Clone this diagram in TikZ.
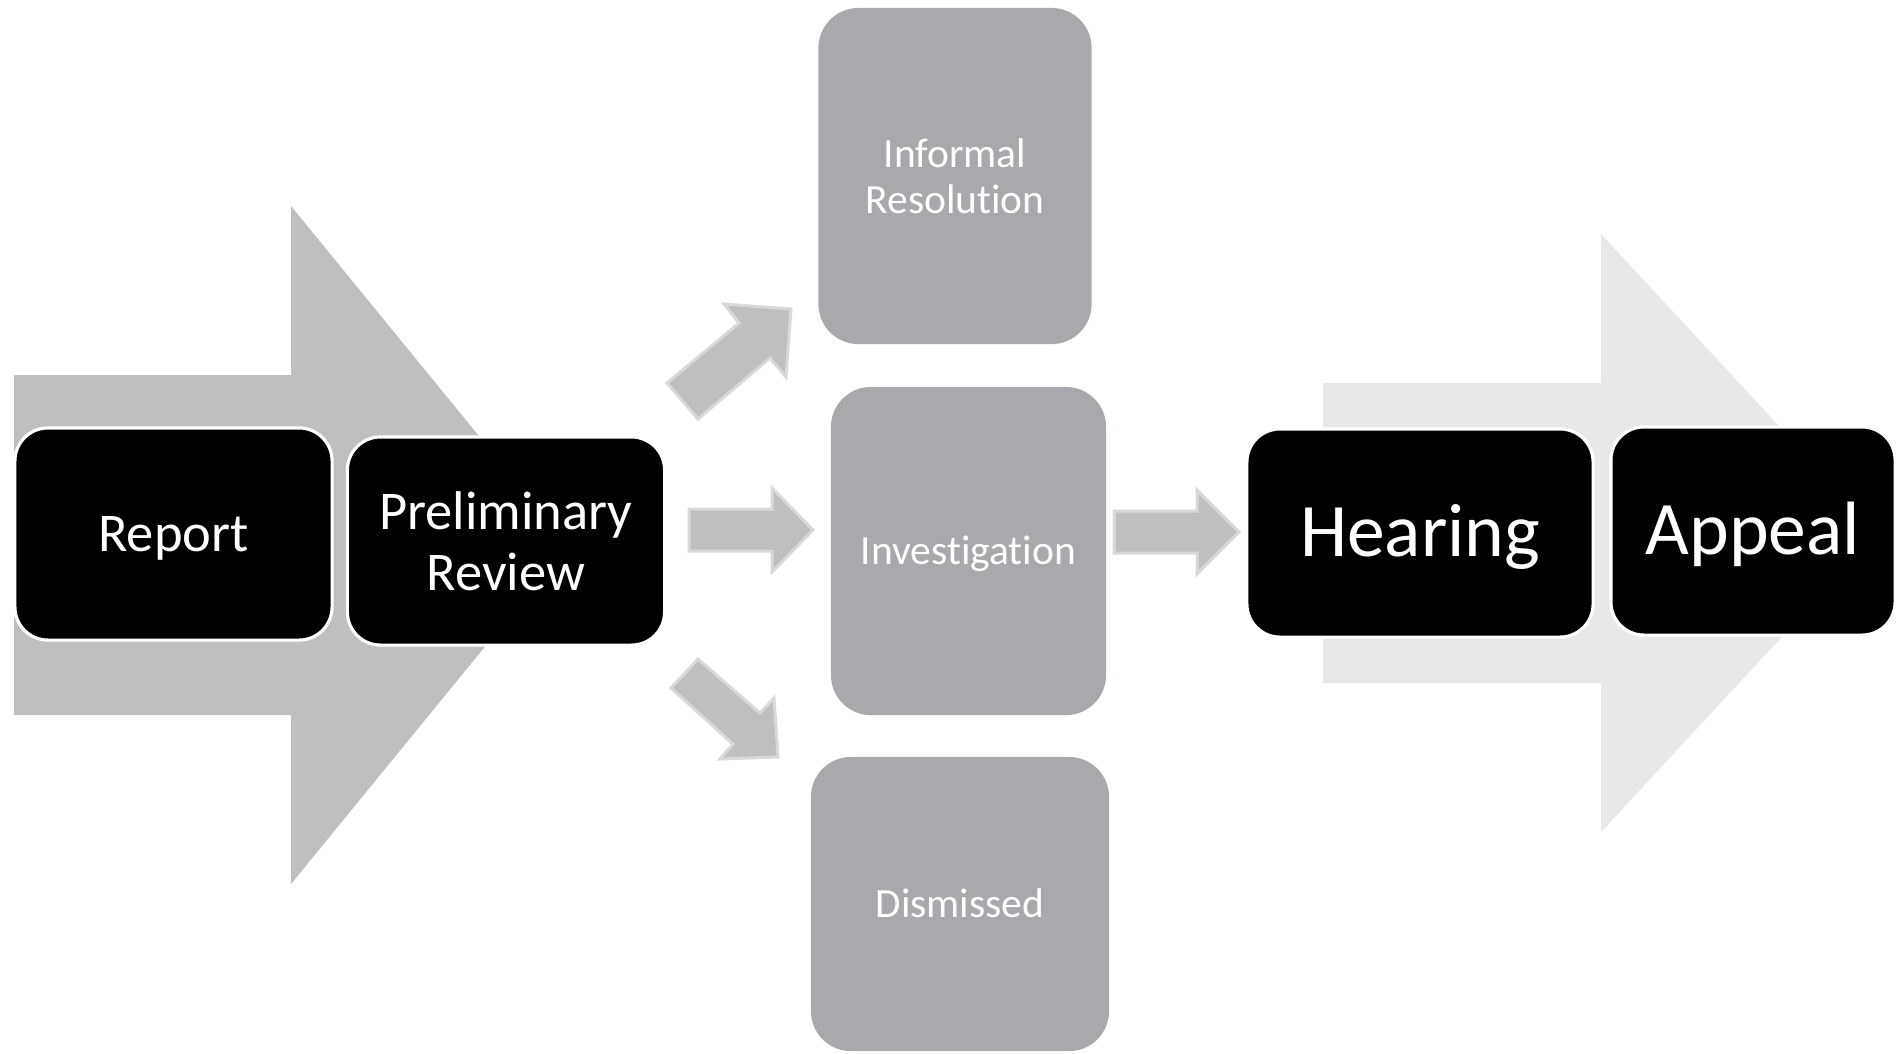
\documentclass[tikz,border=0pt]{standalone}
\usepackage{fontspec}
\setmainfont{Carlito}[Ligatures={NoCommon}]
\definecolor{arrowgray}{HTML}{BFBFBF}
\definecolor{arrowlight}{HTML}{E8E8E8}
\definecolor{arrowedge}{HTML}{D9D9D9}
\definecolor{boxgray}{HTML}{A7A9AC}
\tikzset{
  blackbox/.style={rectangle, rounded corners=0.33cm, fill=black, draw=white, line width=0.9pt, text=white, align=center, inner sep=0pt},
  graybox/.style={rectangle, rounded corners=0.4cm, fill=boxgray, text=white, align=center, inner sep=0pt},
  smallarrow/.style={fill=arrowgray, draw=arrowedge, line width=0.85pt, line join=miter},
  midfont/.style={font=\fontsize{15.5}{17.4}\selectfont},
  bigfont/.style={font=\fontsize{21.5}{24}\selectfont},
  smallfont/.style={font=\fontsize{11.8}{13.2}\selectfont},
  midcap/.style={text height=9.8pt, text depth=0pt},
  bigcap/.style={text height=13.6pt, text depth=0pt},
  smallcap/.style={text height=7.5pt, text depth=0pt}
}
\begin{document}
\begin{tikzpicture}[x=0.01cm, y=-0.01cm]
\path[use as bounding box, fill=white] (0,0) rectangle (1903,1053);
% big background arrows
\fill[arrowgray] (14,375) -- (291,375) -- (291,206) -- (568,545) -- (291,884) -- (291,715) -- (14,715) -- cycle;
\fill[arrowlight] (1323,383) -- (1601,383) -- (1601,234) -- (1878,533) -- (1601,832) -- (1601,683) -- (1323,683) -- cycle;
% small block arrows
\draw[smallarrow] (689,509) -- (772,509) -- (772,488) -- (813,530) -- (772,572) -- (772,551) -- (689,551) -- cycle;
\draw[smallarrow] (1114,511) -- (1197,511) -- (1197,490) -- (1239,532) -- (1197,574) -- (1197,553) -- (1114,553) -- cycle;
\draw[smallarrow] (667,383) -- (739,323) -- (724,304) -- (791,309) -- (786,377) -- (770,358) -- (698,419) -- cycle;
\draw[smallarrow] (698,659) -- (760,713) -- (774,698) -- (778,757) -- (720,759) -- (733,744) -- (671,688) -- cycle;
% gray outcome boxes
\node[graybox, smallfont, minimum width=2.73cm, minimum height=3.36cm] (informal) at (955,176) {Informal\\Resolution};
\node[graybox, smallfont, smallcap, minimum width=2.75cm, minimum height=3.28cm] (invest) at (968.5,551) {Investigation};
\node[graybox, smallfont, smallcap, minimum width=2.98cm, minimum height=2.94cm] (dismissed) at (960,904) {Dismissed};
% black process boxes
\node[blackbox, midfont, midcap, minimum width=3.17cm, minimum height=2.12cm] (report) at (173.5,534) {Report};
\node[blackbox, midfont, minimum width=3.17cm, minimum height=2.08cm] (prelim) at (506,541) {Preliminary\\Review};
\node[blackbox, bigfont, bigcap, minimum width=3.46cm, minimum height=2.08cm] (hearing) at (1420,533) {Hearing};
\node[blackbox, bigfont, bigcap, minimum width=2.84cm, minimum height=2.08cm] (appeal) at (1753,531) {Appeal};
\end{tikzpicture}
\end{document}
